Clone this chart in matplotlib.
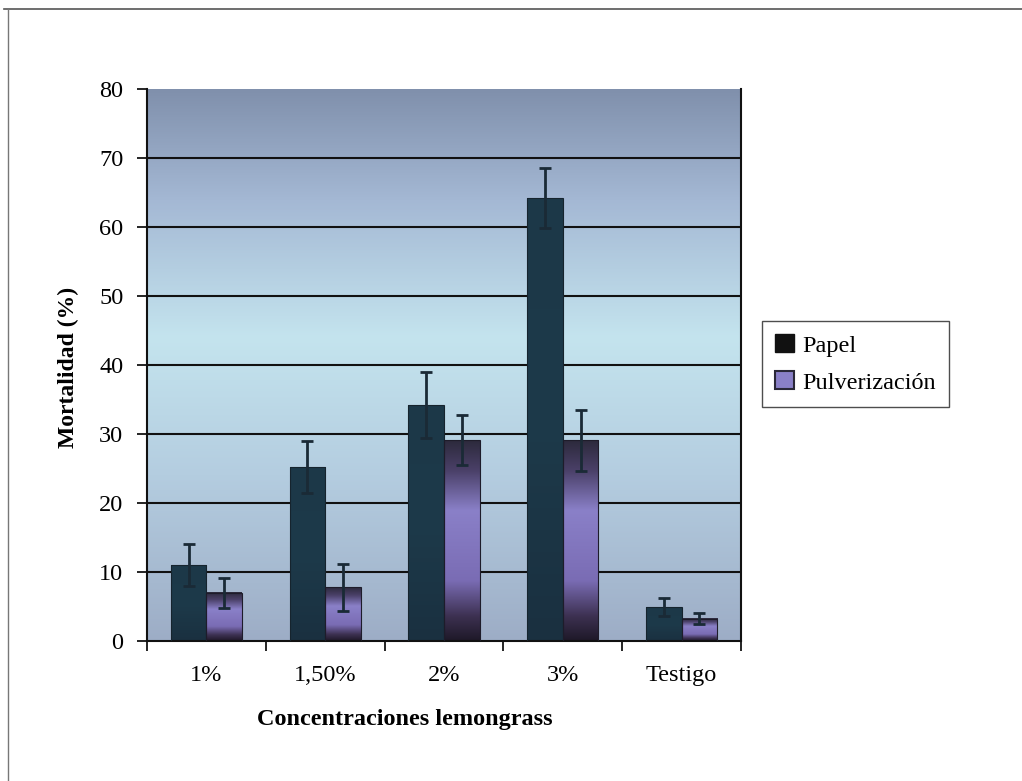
import numpy as np
import matplotlib
matplotlib.use("Agg")
import matplotlib.pyplot as plt
from matplotlib.colors import LinearSegmentedColormap
from matplotlib.patches import Patch

plt.rcParams['font.family'] = ['Liberation Serif', 'DejaVu Serif']

categories = ["1%", "1,50%", "2%", "3%", "Testigo"]
papel = [11, 25.2, 34.2, 64.2, 4.9]
papel_err = [3.0, 3.8, 4.8, 4.3, 1.3]
pulv = [7.0, 7.8, 29.1, 29.1, 3.2]
pulv_err = [2.2, 3.4, 3.6, 4.4, 0.8]

fig = plt.figure(figsize=(10.22, 7.81), dpi=100)
ax = fig.add_axes([147 / 1022, 140 / 781, 594 / 1022, 552 / 781])

# outer frame lines (scanned page border)
fig.add_artist(plt.Line2D([0.004, 1.0], [0.989, 0.989], color="#555555", lw=1.2))
fig.add_artist(plt.Line2D([0.008, 0.008], [0.0, 0.989], color="#777777", lw=1.0))

ax.set_xlim(-0.5, 4.5)
ax.set_ylim(0, 80)

# background gradient
bg = LinearSegmentedColormap.from_list("bg", [
    (0.0, "#9dadc6"), (0.3, "#b4cde0"), (0.55, "#c4e4ee"),
    (0.8, "#a4b8d4"), (1.0, "#8090ac")])
grad = np.linspace(0, 1, 256).reshape(-1, 1)
ax.imshow(grad, cmap=bg, extent=[-0.5, 4.5, 0, 80], origin="lower",
          aspect="auto", zorder=0)

for y in range(10, 80, 10):
    ax.axhline(y, color="#111111", lw=1.5, zorder=1)

w = 0.3
x = np.arange(len(categories))
pcmap = LinearSegmentedColormap.from_list("pv", [
    (0.0, "#1e1828"), (0.12, "#3c3050"), (0.3, "#7a6cb4"),
    (0.65, "#8a80c8"), (0.85, "#4a4068"), (1.0, "#2c2a3c")])
tcmap = LinearSegmentedColormap.from_list("pp", ["#1a3040", "#1d3a4a", "#1c3848"])

for i in range(len(categories)):
    x0 = x[i] - w
    ax.imshow(grad, cmap=tcmap, extent=[x0, x0 + w, 0, papel[i]],
              origin="lower", aspect="auto", zorder=2)
    ax.imshow(grad, cmap=pcmap, extent=[x[i], x[i] + w, 0, pulv[i]],
              origin="lower", aspect="auto", zorder=2)

ax.bar(x - w / 2, papel, w, facecolor="none", edgecolor="#16242e", lw=0.8, zorder=3)
ax.bar(x + w / 2, pulv, w, facecolor="none", edgecolor="#1e1c2a", lw=0.8, zorder=3)
ax.errorbar(x - w / 2, papel, yerr=papel_err, fmt="none", ecolor="#1a2a36",
            elinewidth=2, capsize=4.5, capthick=2, zorder=4)
ax.errorbar(x + w / 2, pulv, yerr=pulv_err, fmt="none", ecolor="#1a2a36",
            elinewidth=2, capsize=4.5, capthick=2, zorder=4)

ax.set_xlim(-0.5, 4.5)
ax.set_ylim(0, 80)

ax.set_yticks(range(0, 81, 10))
ax.tick_params(axis="y", length=7, width=1.2, pad=10, labelsize=17.5, direction="out")
ax.set_xticks(x)
ax.set_xticklabels(categories)
ax.set_xticks(np.arange(-0.5, 4.6, 1), minor=True)
ax.tick_params(axis="x", which="major", length=0, pad=17, labelsize=17.5)
ax.tick_params(axis="x", which="minor", length=7, width=1.2, direction="out")

for s in ["left", "bottom", "right"]:
    ax.spines[s].set_color("#111111")
    ax.spines[s].set_linewidth(1.5)
ax.spines["top"].set_visible(False)

ax.set_ylabel("Mortalidad (%)", fontsize=17, fontweight="bold")
ax.yaxis.set_label_coords(-0.115, 0.495)
ax.set_xlabel("Concentraciones lemongrass", fontsize=17.5, fontweight="bold")
ax.xaxis.set_label_coords(0.434, -0.124)

handles = [Patch(facecolor="#111111", edgecolor="#111111"),
           Patch(facecolor="#8a80c8", edgecolor="#2a2838", lw=1.5)]
leg = ax.legend(handles, ["Papel", "Pulverización"], loc="upper left",
                bbox_to_anchor=(762 / 1022, (781 - 321) / 781),
                bbox_transform=fig.transFigure, fontsize=17.5, frameon=True,
                fancybox=False, edgecolor="#222222", handlelength=0.75,
                handleheight=0.75, handletextpad=0.35, labelspacing=0.6,
                borderpad=0.55, borderaxespad=0)
leg.get_frame().set_linewidth(1.0)

fig.savefig("out.png", dpi=100)
